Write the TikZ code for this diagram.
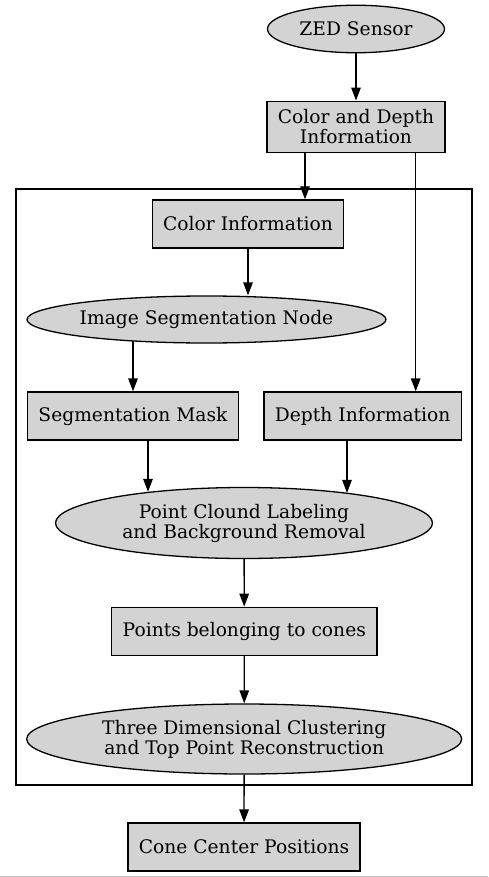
\documentclass[tikz,border=0pt]{standalone}
\usepackage{fontspec}
\setmainfont{DejaVu Serif}
\usetikzlibrary{arrows.meta,shapes.geometric}
\definecolor{nodefill}{HTML}{D3D3D3}

\begin{document}
\begin{tikzpicture}[x=1pt,y=-1pt,>={Triangle[length=13pt,width=9.5pt]},line width=1.3pt,
    font=\fontsize{18.67}{20}\selectfont,
    box/.style={draw,fill=nodefill,rectangle,minimum height=48pt,inner xsep=11pt,align=center},
    oval/.style={draw,fill=nodefill,ellipse,inner sep=0pt,align=center}]
      \useasboundingbox (0,0) rectangle (488,877);
      \draw[line width=1pt,black!25] (0,876) -- (488,876);

      % cluster
      \draw (16,189) rectangle (472,785);

      \node[oval,minimum width=177pt,minimum height=47.5pt] (zed) at (356,29) {ZED Sensor};
      \node[box,minimum height=51pt] (cdi) at (356,126.7) {Color and Depth\\Information};
      \node[box] (cinfo) at (248,224) {Color Information};
      \node[oval,minimum width=359pt,minimum height=47pt] (isn) at (206.5,319.5) {Image Segmentation Node};
      \node[box] (mask) at (133,416) {Segmentation Mask};
      \node[box] (depth) at (362.7,416) {Depth Information};
      \node[oval,minimum width=377pt,minimum height=71pt] (pcl) at (244,523) {Point Clound Labeling\\and Background Removal};
      \node[box] (points) at (244.3,631.3) {Points belonging to cones};
      \node[oval,minimum width=435pt,minimum height=70pt] (tdc) at (244.2,739) {Three Dimensional Clustering\\and Top Point Reconstruction};
      \node[box] (cone) at (244,847) {Cone Center Positions};

      \coordinate (cdiL) at ([xshift=-51pt]cdi.south);
      \coordinate (cdiR) at ([xshift=59.7pt]cdi.south);
      \coordinate (maskS) at ([xshift=15pt]mask.south);
      \coordinate (depthS) at ([xshift=-15.7pt]depth.south);

      \path[->]
      (zed) edge (cdi)
      (cdiL) edge (cdiL |- cinfo.north)
      (cdiR) edge (cdiR |- depth.north)

      (cinfo) edge (cinfo.south |- isn.north)
      (mask.north |- isn.196) edge (mask.north)

      (maskS) edge (maskS |- pcl.162)
      (depthS) edge (depthS |- pcl.16)

      (pcl) edge (points)
      (points) edge (tdc)
      (tdc) edge (cone)
      ;
\end{tikzpicture}
\end{document}
